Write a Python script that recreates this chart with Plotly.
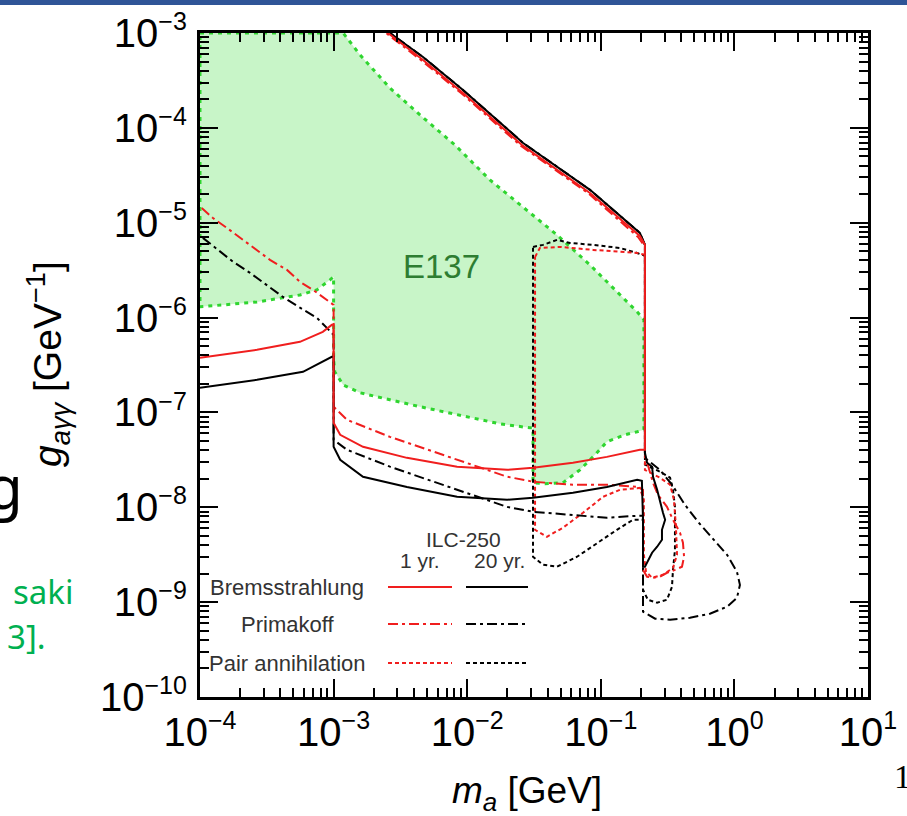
import plotly.graph_objects as go

# ---------------- data (m_a in GeV, g in GeV^-1) ----------------
e137_m = [1.0e-4, 1.18e-3, 1.58e-3, 2.64e-3, 4.43e-3, 8.1e-3, 1.48e-2, 2.48e-2, 4.7e-2, 8.3e-2, 0.128, 0.187, 0.21,
          0.21, 0.187, 0.152, 0.111, 9.05e-2, 6.98e-2, 5.2e-2, 3.82e-2, 3.11e-2, 3.11e-2, 2.95e-2, 1.76e-2, 8.4e-3,
          4.43e-3, 2.64e-3, 1.58e-3, 1.18e-3, 1.02e-3, 1.0e-3, 1.0e-3, 9.4e-4, 7.5e-4, 5.6e-4, 4.18e-4, 2.67e-4,
          1.49e-4, 1.0e-4, 1.0e-4]
e137_g = [1.0e-3, 1.0e-3, 5.86e-4, 2.63e-4, 1.37e-4, 6.6e-5, 2.82e-5, 1.54e-5, 7.43e-6, 3.59e-6, 1.96e-6, 1.15e-6, 9.5e-7,
          6.56e-8, 6.25e-8, 5.81e-8, 4.9e-8, 3.57e-8, 2.48e-8, 1.81e-8, 1.77e-8, 1.81e-8, 6.88e-8, 6.88e-8, 7.58e-8,
          9.44e-8, 1.15e-7, 1.36e-7, 1.61e-7, 1.95e-7, 2.68e-7, 3.58e-7, 2.69e-6, 2.5e-6, 1.96e-6, 1.73e-6, 1.61e-6,
          1.46e-6, 1.36e-6, 1.3e-6, 1.0e-3]

brem20_m = [1.0e-4, 2.67e-4, 5.9e-4, 8.9e-4, 9.7e-4, 1.0e-3, 1.0e-3, 1.12e-3, 1.66e-3, 3.54e-3, 8.4e-3, 1.99e-2, 3.11e-2,
            6.19e-2, 0.111, 0.187, 0.203, 0.207, 0.207, 0.214, 0.222, 0.242, 0.264, 0.287, 0.287, 0.303, 0.292, 0.277,
            0.264, 0.246, 0.242, 0.222, 0.214, 0.214, 0.196, 8.3e-2, 2.62e-2, 9.3e-3, 4.67e-3, 2.64e-3]
brem20_g = [1.82e-7, 2.21e-7, 2.68e-7, 3.58e-7, 3.86e-7, 3.86e-7, 4.34e-8, 3.17e-8, 2.1e-8, 1.64e-8, 1.29e-8, 1.2e-8,
            1.26e-8, 1.42e-8, 1.64e-8, 1.95e-8, 1.9e-8, 7.38e-9, 2.36e-9, 2.36e-9, 2.6e-9, 3.32e-9, 3.84e-9, 4.55e-9,
            5.79e-9, 7.38e-9, 8.75e-9, 1.2e-8, 1.53e-8, 2.1e-8, 2.68e-8, 2.95e-8, 3.75e-8, 5.84e-6, 7.8e-6, 2.22e-5,
            6.93e-5, 2.51e-4, 5.58e-4, 1.0e-3]

brem1_m = [1.0e-4, 2.67e-4, 5.6e-4, 8.3e-4, 9.7e-4, 1.0e-3, 1.0e-3, 1.12e-3, 1.66e-3, 3.54e-3, 8.4e-3, 1.99e-2, 3.11e-2,
           6.19e-2, 0.111, 0.196, 0.214, 0.214, 0.196, 8.3e-2, 2.62e-2, 9.3e-3, 4.67e-3, 2.55e-3]
brem1_g = [3.76e-7, 4.57e-7, 5.55e-7, 7.07e-7, 8.38e-7, 8.38e-7, 7.77e-8, 5.81e-8, 4.34e-8, 3.32e-8, 2.68e-8, 2.48e-8,
           2.61e-8, 2.95e-8, 3.4e-8, 4.04e-8, 4.04e-8, 5.84e-6, 7.26e-6, 2.06e-5, 6.45e-5, 2.33e-4, 5.19e-4, 1.0e-3]

prim1_m = [1.03e-4, 1.25e-4, 1.59e-4, 2.1e-4, 2.67e-4, 3.34e-4, 4.48e-4, 5.6e-4, 7.0e-4, 8.9e-4, 1.0e-3, 1.0e-3, 1.26e-3,
           2.64e-3, 8.4e-3, 1.99e-2, 3.11e-2, 6.19e-2, 0.111, 0.187, 0.207, 0.207, 0.222, 0.246, 0.277, 0.313, 0.359,
           0.405, 0.42, 0.412, 0.392, 0.347, 0.313, 0.268, 0.246, 0.225, 0.214, 0.214, 0.19, 8.0e-2, 2.53e-2, 9.0e-3,
           4.5e-3, 2.47e-3]
prim1_g = [1.43e-5, 1.12e-5, 8.8e-6, 6.59e-6, 5.17e-6, 4.06e-6, 3.18e-6, 2.38e-6, 1.96e-6, 1.54e-6, 1.36e-6, 1.15e-7,
           8.36e-8, 5.53e-8, 3.17e-8, 2.1e-8, 1.86e-8, 1.73e-8, 1.73e-8, 1.64e-8, 1.53e-8, 2.19e-9, 1.85e-9, 1.81e-9,
           1.85e-9, 2.04e-9, 2.19e-9, 2.36e-9, 3.01e-9, 4.23e-9, 5.38e-9, 7.38e-9, 1.01e-8, 1.35e-8, 1.81e-8, 2.81e-8,
           3.57e-8, 5.56e-6, 7.08e-6, 2.06e-5, 6.45e-5, 2.33e-4, 5.19e-4, 1.0e-3]

prim20_m = [1.05e-4, 1.41e-4, 1.77e-4, 2.37e-4, 3.17e-4, 4.18e-4, 5.6e-4, 7.5e-4, 8.9e-4, 1.0e-3, 1.0e-3, 1.26e-3,
            2.64e-3, 8.4e-3, 1.99e-2, 3.11e-2, 6.19e-2, 0.111, 0.187, 0.207, 0.207, 0.255, 0.33, 0.465, 0.656, 0.881,
            1.045, 1.10, 1.045, 0.881, 0.68, 0.534, 0.427, 0.341, 0.277, 0.214, 0.214, 0.196, 8.3e-2, 2.62e-2, 9.3e-3,
            4.67e-3, 2.64e-3]
prim20_g = [6.92e-6, 4.92e-6, 3.87e-6, 2.96e-6, 2.21e-6, 1.65e-6, 1.27e-6, 9.93e-7, 7.79e-7, 6.57e-7, 5.14e-8, 4.04e-8,
            2.68e-8, 1.53e-8, 1.01e-8, 8.97e-9, 8.34e-9, 7.75e-9, 8.14e-9, 8.14e-9, 7.93e-10, 6.69e-10, 6.53e-10,
            6.85e-10, 7.56e-10, 8.95e-10, 1.11e-9, 1.52e-9, 2.09e-9, 3.16e-9, 4.77e-9, 7.03e-9, 1.06e-8, 1.73e-8,
            2.48e-8, 3.32e-8, 5.84e-6, 7.8e-6, 2.22e-5, 6.93e-5, 2.51e-4, 5.58e-4, 1.0e-3]

pair1_m = [3.22e-2, 3.5e-2, 4.95e-2, 8.75e-2, 0.187, 0.214, 0.214, 0.277, 0.33, 0.353, 0.365, 0.372, 0.347, 0.292,
           0.242, 0.218, 0.21, 0.21, 0.196, 0.139, 0.104, 7.36e-2, 5.2e-2, 3.95e-2, 3.22e-2, 3.22e-2]
pair1_g = [4.36e-6, 5.42e-6, 5.56e-6, 5.17e-6, 4.8e-6, 4.58e-6, 2.48e-8, 2.05e-8, 1.73e-8, 1.2e-8, 6.22e-9, 3.16e-9,
           2.3e-9, 1.94e-9, 1.81e-9, 2.09e-9, 3.16e-9, 1.2e-8, 1.6e-8, 1.53e-8, 1.29e-8, 8.75e-9, 6.08e-9, 4.89e-9,
           5.79e-9, 4.36e-6]

pair20_m = [3.11e-2, 3.69e-2, 4.7e-2, 5.88e-2, 8.75e-2, 0.139, 0.187, 0.214, 0.214, 0.277, 0.33, 0.347, 0.359, 0.359,
            0.359, 0.347, 0.341, 0.313, 0.264, 0.225, 0.207, 0.207, 0.174, 0.132, 9.4e-2, 6.64e-2, 4.7e-2, 3.69e-2,
            3.11e-2, 3.11e-2]
pair20_g = [5.56e-6, 5.84e-6, 6.59e-6, 6.12e-6, 5.84e-6, 5.42e-6, 4.8e-6, 4.47e-6, 2.81e-8, 2.37e-8, 2.05e-8, 1.53e-8,
            1.01e-8, 5.79e-9, 3.56e-9, 2.19e-9, 1.45e-9, 1.06e-9, 9.86e-10, 1.06e-9, 1.35e-9, 7.38e-9, 7.38e-9,
            5.79e-9, 4.23e-9, 3.01e-9, 2.36e-9, 2.48e-9, 3.01e-9, 5.56e-6]

x_decades = [-4, -3, -2, -1, 0, 1]
y_decades = [-10, -9, -8, -7, -6, -5, -4, -3]
legend_rows = ["Bremsstrahlung", "Primakoff", "Pair annihilation"]
legend_heads = ["ILC-250", "1 yr.", "20 yr."]

# ---------------- styling / layout ----------------
W, H = 907, 816
L, R, T, B = 200, 868, 33, 697
FONT = "Liberation Sans, Arial, Helvetica, sans-serif"
RED = "#F01E1E"
GREEN_LINE = "#2FD52F"
GREEN_FILL = "#C8F5C8"
DASHDOT = "10px,4px,3px,4px"
SHORT = "4px,3px"
MINUS = "\u2212"


def px(x):
    return (x - L) / (R - L)


def py(y):
    return (B - y) / (B - T)


def pow_label(e):
    s = (MINUS if e < 0 else "") + str(abs(e))
    return "10<sup><span style='font-size:25px'>" + s + "</span></sup>"


def plotly_default_label(e):
    # text plotly produces for a decade tick with exponentformat="power"
    if e == 0:
        return "1"
    if e == 1:
        return "10"
    return "10<sup>" + (MINUS if e < 0 else "") + str(abs(e)) + "</sup>"


fig = go.Figure()
fig.add_trace(go.Scatter(x=e137_m, y=e137_g, mode="lines", fill="toself", fillcolor=GREEN_FILL,
                         line=dict(color=GREEN_LINE, width=3, dash="4px,5px"), hoverinfo="skip"))

curves = [
    (pair20_m, pair20_g, "black", SHORT),
    (pair1_m, pair1_g, RED, SHORT),
    (prim20_m, prim20_g, "black", DASHDOT),
    (prim1_m, prim1_g, RED, DASHDOT),
    (brem20_m, brem20_g, "black", "solid"),
    (brem1_m, brem1_g, RED, "solid"),
]
for xm, yg, col, dash in curves:
    fig.add_trace(go.Scatter(x=xm, y=yg, mode="lines", line=dict(color=col, width=2, dash=dash),
                             hoverinfo="skip"))

axis_common = dict(type="log", showline=True, linecolor="black", linewidth=2.5, mirror="ticks",
                   ticks="inside", ticklen=18, tickwidth=2, tickcolor="black", showgrid=False, zeroline=False,
                   tickmode="linear", tick0=0, dtick=1, exponentformat="power", showexponent="all",
                   tickfont=dict(family=FONT, size=32, color="black"),
                   minor=dict(ticks="inside", ticklen=9, tickwidth=1.5, tickcolor="black", showgrid=False,
                              dtick="D1"))

fig.update_xaxes(range=[-4, 1], labelalias={plotly_default_label(d): pow_label(d) for d in x_decades},
                 **axis_common)
fig.update_yaxes(range=[-10, -3], labelalias={plotly_default_label(d): pow_label(d) for d in y_decades},
                 ticklabelstandoff=4, **axis_common)

TXT = "#333333"
ann = []
# axis titles
ann.append(dict(x=px(527), y=py(793), text="<i>m<sub>a</sub></i> [GeV]", font=dict(family=FONT, size=37, color="black")))
ann.append(dict(x=px(48), y=py(364), text="<i>g<sub>aγγ</sub></i> [GeV<sup>−1</sup>]", textangle=-90,
                font=dict(family=FONT, size=39, color="black")))
# E137 label
ann.append(dict(x=px(441), y=py(266), text="E137", font=dict(family=FONT, size=33, color="#2E7D32")))
# legend texts
ann.append(dict(x=px(463), y=py(539), text=legend_heads[0], font=dict(family=FONT, size=21, color=TXT)))
ann.append(dict(x=px(420), y=py(560), text=legend_heads[1], font=dict(family=FONT, size=21, color=TXT)))
ann.append(dict(x=px(499), y=py(560), text=legend_heads[2], font=dict(family=FONT, size=21, color=TXT)))
row_y = [587, 624, 663]
for name, yy in zip(legend_rows, row_y):
    ann.append(dict(x=px(287), y=py(yy), text=name, font=dict(family=FONT, size=22, color=TXT)))
for a in ann:
    a.update(xanchor="center")
# slide remnants
ann.append(dict(x=px(24), y=py(486), text="g", xanchor="right",
                font=dict(family="Noto Sans, sans-serif", size=60, color="black")))
ann.append(dict(x=px(74), y=py(591), text="saki", xanchor="right",
                font=dict(family="Noto Sans, sans-serif", size=33, color="#00B050")))
ann.append(dict(x=px(47), y=py(636), text="3].", xanchor="right",
                font=dict(family="Noto Sans, sans-serif", size=33, color="#00B050")))
ann.append(dict(x=px(893), y=py(776), text="1", xanchor="left",
                font=dict(family="Liberation Serif, serif", size=34, color="black")))
for a in ann:
    a.update(xref="paper", yref="paper", showarrow=False, yanchor="middle", borderpad=0)

shapes = [dict(type="rect", xref="paper", yref="paper", x0=px(0), x1=px(W), y0=py(0), y1=py(5),
               fillcolor="#2F5597", line=dict(width=0))]
sample_specs = [("solid", 587), (DASHDOT, 624), (SHORT, 663)]
for dash, yy in sample_specs:
    shapes.append(dict(type="line", xref="paper", yref="paper", x0=px(388), x1=px(452), y0=py(yy), y1=py(yy),
                       line=dict(color=RED, width=2, dash=dash)))
    shapes.append(dict(type="line", xref="paper", yref="paper", x0=px(466), x1=px(528), y0=py(yy), y1=py(yy),
                       line=dict(color="black", width=2, dash=dash)))

fig.update_layout(width=W, height=H, margin=dict(l=L, r=W - R, t=T, b=H - B, autoexpand=False),
                  paper_bgcolor="white", plot_bgcolor="white", showlegend=False,
                  annotations=ann, shapes=shapes, font=dict(family=FONT, color="black"))

fig.write_html("out.html", config={"displayModeBar": False},
               post_script="document.body.style.margin='0';document.body.style.overflow='hidden';")
